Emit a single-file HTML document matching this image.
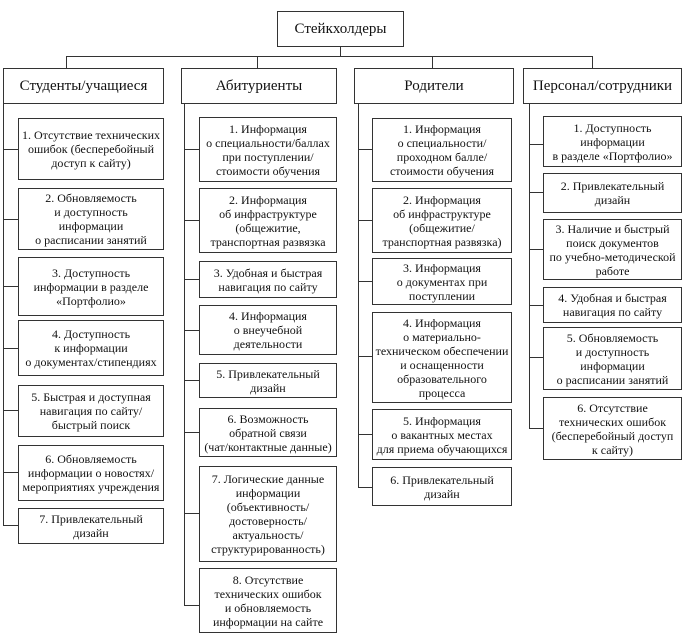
<!DOCTYPE html>
<html><head><meta charset="utf-8"><style>
body{margin:0;width:689px;height:644px;background:#fff;position:relative;overflow:hidden;font-family:"Liberation Serif","Noto Serif CJK SC",serif;color:#111}
.b{position:absolute;box-sizing:border-box;border:1.3px solid #333;display:flex;align-items:center;justify-content:center;text-align:center;font-size:12px;line-height:14px;background:#fff;white-space:nowrap}
.h{font-size:15px}
.l{position:absolute;background:#333}
</style></head><body>
<div class="b h" style="left:277px;top:11px;width:127px;height:36px">Стейкхолдеры</div>
<div class="l" style="left:340px;top:46px;width:1.3px;height:10px"></div>
<div class="l" style="left:66px;top:56px;width:527px;height:1.3px"></div>
<div class="l" style="left:66px;top:56px;width:1.3px;height:12px"></div>
<div class="l" style="left:257px;top:56px;width:1.3px;height:12px"></div>
<div class="l" style="left:432px;top:56px;width:1.3px;height:12px"></div>
<div class="l" style="left:592px;top:56px;width:1.3px;height:12px"></div>
<div class="b h" style="left:3px;top:68px;width:161px;height:36px">Студенты/учащиеся</div>
<div class="b h" style="left:181px;top:68px;width:156px;height:36px">Абитуриенты</div>
<div class="b h" style="left:354px;top:68px;width:160px;height:36px">Родители</div>
<div class="b h" style="left:523px;top:68px;width:159px;height:36px">Персонал/сотрудники</div>
<div class="l" style="left:3px;top:103px;width:1.3px;height:423px"></div>
<div class="l" style="left:184px;top:103px;width:1.3px;height:503px"></div>
<div class="l" style="left:358px;top:103px;width:1.3px;height:385px"></div>
<div class="l" style="left:529px;top:103px;width:1.3px;height:326px"></div>
<div class="b" style="left:18px;top:118px;width:146px;height:62px">1. Отсутствие технических<br>ошибок (бесперебойный<br>доступ к сайту)</div>
<div class="l" style="left:3px;top:149px;width:15px;height:1.3px"></div>
<div class="b" style="left:18px;top:188px;width:146px;height:62px">2. Обновляемость<br>и доступность<br>информации<br>о расписании занятий</div>
<div class="l" style="left:3px;top:219px;width:15px;height:1.3px"></div>
<div class="b" style="left:18px;top:257px;width:146px;height:59px">3. Доступность<br>информации в разделе<br>«Портфолио»</div>
<div class="l" style="left:3px;top:286px;width:15px;height:1.3px"></div>
<div class="b" style="left:18px;top:320px;width:146px;height:56px">4. Доступность<br>к информации<br>о документах/стипендиях</div>
<div class="l" style="left:3px;top:348px;width:15px;height:1.3px"></div>
<div class="b" style="left:18px;top:385px;width:146px;height:52px">5. Быстрая и доступная<br>навигация по сайту/<br>быстрый поиск</div>
<div class="l" style="left:3px;top:410px;width:15px;height:1.3px"></div>
<div class="b" style="left:18px;top:445px;width:146px;height:56px">6. Обновляемость<br>информации о новостях/<br>мероприятиях учреждения</div>
<div class="l" style="left:3px;top:472px;width:15px;height:1.3px"></div>
<div class="b" style="left:18px;top:508px;width:146px;height:36px">7. Привлекательный<br>дизайн</div>
<div class="l" style="left:3px;top:525px;width:15px;height:1.3px"></div>
<div class="b" style="left:199px;top:117px;width:138px;height:65px">1. Информация<br>о специальности/баллах<br>при поступлении/<br>стоимости обучения</div>
<div class="l" style="left:184px;top:149px;width:15px;height:1.3px"></div>
<div class="b" style="left:199px;top:188px;width:138px;height:65px">2. Информация<br>об инфраструктуре<br>(общежитие,<br>транспортная развязка</div>
<div class="l" style="left:184px;top:220px;width:15px;height:1.3px"></div>
<div class="b" style="left:199px;top:261px;width:138px;height:37px">3. Удобная и быстрая<br>навигация по сайту</div>
<div class="l" style="left:184px;top:279px;width:15px;height:1.3px"></div>
<div class="b" style="left:199px;top:305px;width:138px;height:50px">4. Информация<br>о внеучебной<br>деятельности</div>
<div class="l" style="left:184px;top:330px;width:15px;height:1.3px"></div>
<div class="b" style="left:199px;top:363px;width:138px;height:35px">5. Привлекательный<br>дизайн</div>
<div class="l" style="left:184px;top:380px;width:15px;height:1.3px"></div>
<div class="b" style="left:199px;top:408px;width:138px;height:49px">6. Возможность<br>обратной связи<br>(чат/контактные данные)</div>
<div class="l" style="left:184px;top:432px;width:15px;height:1.3px"></div>
<div class="b" style="left:199px;top:466px;width:138px;height:96px">7. Логические данные<br>информации<br>(объективность/<br>достоверность/<br>актуальность/<br>структурированность)</div>
<div class="l" style="left:184px;top:513px;width:15px;height:1.3px"></div>
<div class="b" style="left:199px;top:568px;width:138px;height:65px">8. Отсутствие<br>технических ошибок<br>и обновляемость<br>информации на сайте</div>
<div class="l" style="left:184px;top:605px;width:15px;height:1.3px"></div>
<div class="b" style="left:372px;top:118px;width:140px;height:64px">1. Информация<br>о специальности/<br>проходном балле/<br>стоимости обучения</div>
<div class="l" style="left:358px;top:149px;width:14px;height:1.3px"></div>
<div class="b" style="left:372px;top:188px;width:140px;height:65px">2. Информация<br>об инфраструктуре<br>(общежитие/<br>транспортная развязка)</div>
<div class="l" style="left:358px;top:220px;width:14px;height:1.3px"></div>
<div class="b" style="left:372px;top:258px;width:140px;height:47px">3. Информация<br>о документах при<br>поступлении</div>
<div class="l" style="left:358px;top:281px;width:14px;height:1.3px"></div>
<div class="b" style="left:372px;top:312px;width:140px;height:91px">4. Информация<br>о материально-<br>техническом обеспечении<br>и оснащенности<br>образовательного<br>процесса</div>
<div class="l" style="left:358px;top:356px;width:14px;height:1.3px"></div>
<div class="b" style="left:372px;top:409px;width:140px;height:51px">5. Информация<br>о вакантных местах<br>для приема обучающихся</div>
<div class="l" style="left:358px;top:434px;width:14px;height:1.3px"></div>
<div class="b" style="left:372px;top:467px;width:140px;height:39px">6. Привлекательный<br>дизайн</div>
<div class="l" style="left:358px;top:487px;width:14px;height:1.3px"></div>
<div class="b" style="left:543px;top:116px;width:139px;height:51px">1. Доступность<br>информации<br>в разделе «Портфолио»</div>
<div class="l" style="left:529px;top:144px;width:14px;height:1.3px"></div>
<div class="b" style="left:543px;top:173px;width:139px;height:40px">2. Привлекательный<br>дизайн</div>
<div class="l" style="left:529px;top:192px;width:14px;height:1.3px"></div>
<div class="b" style="left:543px;top:219px;width:139px;height:61px">3. Наличие и быстрый<br>поиск документов<br>по учебно-методической<br>работе</div>
<div class="l" style="left:529px;top:249px;width:14px;height:1.3px"></div>
<div class="b" style="left:543px;top:287px;width:139px;height:36px">4. Удобная и быстрая<br>навигация по сайту</div>
<div class="l" style="left:529px;top:305px;width:14px;height:1.3px"></div>
<div class="b" style="left:543px;top:327px;width:139px;height:63px">5. Обновляемость<br>и доступность<br>информации<br>о расписании занятий</div>
<div class="l" style="left:529px;top:357px;width:14px;height:1.3px"></div>
<div class="b" style="left:543px;top:397px;width:139px;height:63px">6. Отсутствие<br>технических ошибок<br>(бесперебойный доступ<br>к сайту)</div>
<div class="l" style="left:529px;top:428px;width:14px;height:1.3px"></div>
</body></html>
